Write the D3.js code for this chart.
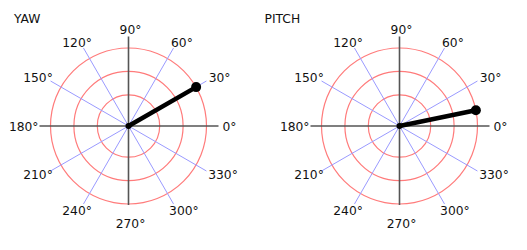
<!DOCTYPE html>
<html><head><meta charset="utf-8">
<script src="https://cdn.jsdelivr.net/npm/d3@7"></script>
<style>body{margin:0;background:#fff}svg{display:block}text{font-family:"DejaVu Sans",sans-serif;font-size:12.3px;fill:#111}</style>
</head><body>
<script>
const titles = ["YAW", "PITCH"];
const angles = [29.9, 11.7];       // degrees
const magnitudes = [1.0, 1.0];
const ringValues = [0.4, 0.7, 1.0];
const tickAngles = [0, 30, 60, 90, 120, 150, 180, 210, 240, 270, 300, 330];
const tickLabels = tickAngles.map(a => a + "°");

const W = 527, H = 250;
const svg = d3.select("body").append("svg").attr("width", W).attr("height", H);
const centersX = [128.5, 399.5], cy = 126;
const rScale = d3.scaleLinear().domain([0, 1]).range([0, 78]);
const spoke = 90;
const rad = d => d * Math.PI / 180;

titles.forEach((t, i) => {
  const g = svg.append("g").attr("transform", `translate(${centersX[i]},${cy})`);
  svg.append("text").attr("x", i === 0 ? 14 : 264.5).attr("y", 22.5).text(t);
  g.selectAll("circle.ring").data(ringValues).join("circle")
    .attr("r", d => rScale(d)).attr("fill", "none")
    .attr("stroke", "#ff7b7b").attr("stroke-width", 1.2);
  g.selectAll("line.sp").data(tickAngles.filter(a => a % 90 !== 0)).join("line")
    .attr("x1", 0).attr("y1", 0)
    .attr("x2", a => spoke * Math.cos(rad(a))).attr("y2", a => -spoke * Math.sin(rad(a)))
    .attr("stroke", "#9a9aff").attr("stroke-width", 1);
  g.append("line").attr("x1", -89).attr("x2", 90).attr("y1", 0).attr("y2", 0)
    .attr("stroke", "#555").attr("stroke-width", 1.6);
  g.append("line").attr("x1", 0).attr("x2", 0).attr("y1", -89.5).attr("y2", 79)
    .attr("stroke", "#555").attr("stroke-width", 1.6);
  const labs = g.selectAll("text.lab").data(tickAngles).join("text")
    .attr("text-anchor", "middle").attr("dominant-baseline", "central")
    .text((a, j) => tickLabels[j]);
  labs.each(function(a) {
    const w = this.getComputedTextLength();
    const c = Math.cos(rad(a)), s = Math.sin(rad(a));
    d3.select(this).attr("x", 2 + (92 + w / 2) * c).attr("y", -97 * s + 0.5);
  });
  const r = rScale(magnitudes[i]), a = rad(angles[i]);
  g.append("line").attr("x1", 0).attr("y1", 0)
    .attr("x2", r * Math.cos(a)).attr("y2", -r * Math.sin(a))
    .attr("stroke", "#000").attr("stroke-width", 4.5).attr("stroke-linecap", "round");
  g.append("circle").attr("r", 5).attr("cx", r * Math.cos(a)).attr("cy", -r * Math.sin(a)).attr("fill", "#000");
  g.append("circle").attr("r", 3).attr("fill", "#000");
});
</script>
</body></html>
